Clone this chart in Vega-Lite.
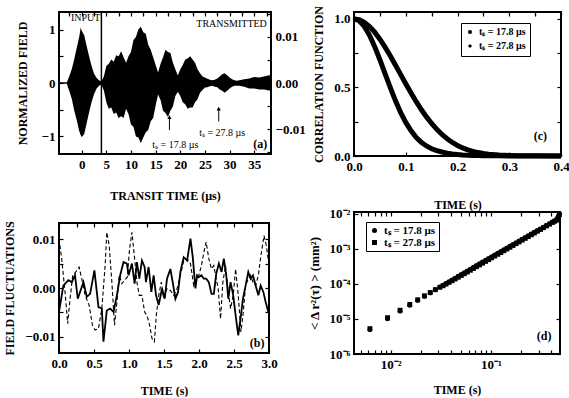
{
  "$schema": "https://vega.github.io/schema/vega-lite/v6.json",
  "background": "white",
  "padding": {"left": 2, "top": 4, "right": 0, "bottom": 0},
  "config": {
    "font": "Liberation Serif",
    "view": {"stroke": "black", "strokeWidth": 2},
    "axis": {"grid": false, "domain": false, "tickColor": "black", "tickSize": -4, "tickWidth": 1.2, "labelPadding": 8, "labelOverlap": false, "labelFlush": false,
      "labelFont": "Liberation Serif", "labelFontWeight": "bold", "labelFontSize": 13, "labelColor": "black",
      "titleFont": "Liberation Serif", "titleFontWeight": "bold", "titleFontSize": 12, "titleColor": "black"},
    "legend": {"labelFont": "Liberation Serif", "labelFontWeight": "bold", "labelColor": "black", "strokeColor": "black", "padding": 5, "rowPadding": 2}
  },
  "spacing": 0,
  "resolve": {"scale": {"shape": "independent"}, "legend": {"shape": "independent"}},
  "hconcat": [
    {
      "bounds": "flush",
      "spacing": 69,
      "vconcat": [
        {
          "width": 212, "height": 142,
          "resolve": {"scale": {"y": "independent"}, "axis": {"x": "independent"}},
          "layer": [
            {
              "layer": [
                {
                  "data": {"values": [
                    {"t": -4.6, "hi": 0.012, "lo": -0.012}, {"t": -3.0, "hi": 0.012, "lo": -0.012},
                    {"t": -2.8, "hi": 0.06, "lo": -0.08}, {"t": -2.5, "hi": 0.13, "lo": -0.15},
                    {"t": -2.0, "hi": 0.26, "lo": -0.30}, {"t": -1.5, "hi": 0.45, "lo": -0.52},
                    {"t": -1.0, "hi": 0.66, "lo": -0.70}, {"t": -0.5, "hi": 0.86, "lo": -0.90},
                    {"t": -0.2, "hi": 1.04, "lo": -0.98}, {"t": 0.0, "hi": 0.98, "lo": -1.01},
                    {"t": 0.5, "hi": 0.90, "lo": -0.96}, {"t": 1.0, "hi": 0.70, "lo": -0.76},
                    {"t": 1.5, "hi": 0.50, "lo": -0.55}, {"t": 2.0, "hi": 0.32, "lo": -0.36},
                    {"t": 2.5, "hi": 0.18, "lo": -0.21}, {"t": 3.0, "hi": 0.10, "lo": -0.11},
                    {"t": 3.5, "hi": 0.05, "lo": -0.05}, {"t": 4.0, "hi": 0.03, "lo": -0.03}
                  ]},
                  "mark": {"type": "area", "color": "black"},
                  "encoding": {
                    "x": {"field": "t", "type": "quantitative", "scale": {"domain": [-4.6, 38.4], "nice": false, "zero": false},
                      "axis": {"title": "TRANSIT TIME (µs)", "titlePadding": 19, "tickCount": 100, "values": [0, 5, 10, 15, 20, 25, 30, 35], "format": "d"}},
                    "y": {"field": "hi", "type": "quantitative", "scale": {"domain": [-1.33, 1.33], "nice": false, "zero": false},
                      "axis": {"title": "NORMALIZED FIELD", "titlePadding": 12, "tickCount": 100, "values": [-1, -0.5, 0, 0.5, 1],
                        "labelExpr": "datum.value % 1 == 0 ? format(datum.value, 'd') : ''"}},
                    "y2": {"field": "lo"}
                  }
                },
                {
                  "data": {"values": [{"t": 4}]},
                  "mark": {"type": "rule", "color": "black", "strokeWidth": 1.5},
                  "encoding": {"x": {"field": "t", "type": "quantitative"}}
                },
                {
                  "data": {"values": [{"t": 17.8, "hi": -0.66, "lo": -0.88}, {"t": 27.8, "hi": -0.50, "lo": -0.72}]},
                  "mark": {"type": "rule", "color": "black", "strokeWidth": 1},
                  "encoding": {"x": {"field": "t", "type": "quantitative"}, "y": {"field": "hi", "type": "quantitative"}, "y2": {"field": "lo"}}
                },
                {
                  "data": {"values": [{"t": 17.8, "hi": -0.64}, {"t": 27.8, "hi": -0.48}]},
                  "mark": {"type": "point", "shape": "triangle-up", "filled": true, "color": "black", "size": 18, "opacity": 1},
                  "encoding": {"x": {"field": "t", "type": "quantitative"}, "y": {"field": "hi", "type": "quantitative"}}
                },
                {
                  "data": {"values": [
                    {"t": 0.8, "hi": 1.21, "label": "INPUT"},
                    {"t": 30.4, "hi": 1.10, "label": "TRANSMITTED"},
                    {"t": 19.0, "hi": -1.17, "label": "tₛ = 17.8 µs"},
                    {"t": 28.5, "hi": -0.93, "label": "tₛ = 27.8 µs"}
                  ]},
                  "mark": {"type": "text", "font": "Liberation Serif", "fontSize": 10, "color": "black"},
                  "encoding": {"x": {"field": "t", "type": "quantitative"}, "y": {"field": "hi", "type": "quantitative"}, "text": {"field": "label"}}
                }
              ]
            },
            {
              "data": {"values": [
                {"t": 4.0, "hi": 0.00035, "lo": -0.00035}, {"t": 4.5, "hi": 0.0014, "lo": -0.0016},
                {"t": 5.0, "hi": 0.0037, "lo": -0.0042}, {"t": 5.5, "hi": 0.0042, "lo": -0.0056},
                {"t": 6.0, "hi": 0.0051, "lo": -0.0053}, {"t": 6.5, "hi": 0.0046, "lo": -0.0067},
                {"t": 7.0, "hi": 0.0060, "lo": -0.0064}, {"t": 7.5, "hi": 0.0058, "lo": -0.0076},
                {"t": 8.0, "hi": 0.0069, "lo": -0.0072}, {"t": 8.5, "hi": 0.0056, "lo": -0.0076},
                {"t": 9.0, "hi": 0.0044, "lo": -0.0056}, {"t": 9.5, "hi": 0.0058, "lo": -0.0067},
                {"t": 10.0, "hi": 0.0067, "lo": -0.0090}, {"t": 10.5, "hi": 0.0093, "lo": -0.0095},
                {"t": 11.0, "hi": 0.0100, "lo": -0.0116}, {"t": 11.5, "hi": 0.0116, "lo": -0.0118},
                {"t": 12.0, "hi": 0.0122, "lo": -0.0130}, {"t": 12.5, "hi": 0.0110, "lo": -0.0118},
                {"t": 13.0, "hi": 0.0107, "lo": -0.0107}, {"t": 13.5, "hi": 0.0083, "lo": -0.0102},
                {"t": 14.0, "hi": 0.0072, "lo": -0.0083}, {"t": 14.5, "hi": 0.0056, "lo": -0.0076},
                {"t": 15.0, "hi": 0.0039, "lo": -0.0049}, {"t": 15.5, "hi": 0.0023, "lo": -0.0025},
                {"t": 16.0, "hi": 0.0042, "lo": -0.0037}, {"t": 16.5, "hi": 0.0056, "lo": -0.0060},
                {"t": 17.0, "hi": 0.0072, "lo": -0.0065}, {"t": 17.5, "hi": 0.0067, "lo": -0.0074},
                {"t": 18.0, "hi": 0.0065, "lo": -0.0060}, {"t": 18.5, "hi": 0.0044, "lo": -0.0051},
                {"t": 19.0, "hi": 0.0030, "lo": -0.0028}, {"t": 19.5, "hi": 0.0016, "lo": -0.0019},
                {"t": 20.0, "hi": 0.0030, "lo": -0.0028}, {"t": 20.5, "hi": 0.0039, "lo": -0.0042},
                {"t": 21.0, "hi": 0.0051, "lo": -0.0046}, {"t": 21.5, "hi": 0.0053, "lo": -0.0056},
                {"t": 22.0, "hi": 0.0058, "lo": -0.0053}, {"t": 22.5, "hi": 0.0051, "lo": -0.0053},
                {"t": 23.0, "hi": 0.0044, "lo": -0.0042}, {"t": 23.5, "hi": 0.0030, "lo": -0.0035},
                {"t": 24.0, "hi": 0.0021, "lo": -0.0021}, {"t": 24.5, "hi": 0.0014, "lo": -0.0015},
                {"t": 25.0, "hi": 0.0012, "lo": -0.0010}, {"t": 25.5, "hi": 0.0009, "lo": -0.0009},
                {"t": 26.0, "hi": 0.0007, "lo": -0.0007}, {"t": 26.5, "hi": 0.0006, "lo": -0.0006},
                {"t": 27.0, "hi": 0.0007, "lo": -0.0008}, {"t": 27.5, "hi": 0.0010, "lo": -0.0009},
                {"t": 28.0, "hi": 0.0014, "lo": -0.0014}, {"t": 28.5, "hi": 0.0019, "lo": -0.0017},
                {"t": 29.0, "hi": 0.0021, "lo": -0.0021}, {"t": 29.5, "hi": 0.0017, "lo": -0.0017},
                {"t": 30.0, "hi": 0.0012, "lo": -0.0012}, {"t": 30.5, "hi": 0.0008, "lo": -0.0008},
                {"t": 31.0, "hi": 0.0006, "lo": -0.0006}, {"t": 31.5, "hi": 0.0005, "lo": -0.0006},
                {"t": 32.0, "hi": 0.0006, "lo": -0.0006}, {"t": 33.0, "hi": 0.0008, "lo": -0.0008},
                {"t": 34.0, "hi": 0.0010, "lo": -0.0012}, {"t": 35.0, "hi": 0.0013, "lo": -0.0012},
                {"t": 36.0, "hi": 0.0012, "lo": -0.0014}, {"t": 37.0, "hi": 0.0014, "lo": -0.0014},
                {"t": 38.0, "hi": 0.0017, "lo": -0.0016}, {"t": 38.4, "hi": 0.0016, "lo": -0.0017}
              ]},
              "mark": {"type": "area", "color": "black"},
              "encoding": {
                "x": {"field": "t", "type": "quantitative",
                  "axis": {"title": null, "labels": false, "tickCount": 100, "values": [-2.5, 2.5, 7.5, 12.5, 17.5, 22.5, 27.5, 32.5, 37.5], "tickSize": -3}},
                "y": {"field": "hi", "type": "quantitative", "scale": {"domain": [-0.0154, 0.0154], "nice": false, "zero": false},
                  "axis": {"orient": "right", "title": null, "tickCount": 100, "values": [-0.015, -0.01, -0.005, 0, 0.005, 0.01, 0.015],
                    "labelExpr": "datum.value == 0.01 || datum.value == 0 || datum.value == -0.01 ? format(datum.value, '.2f') : ''"}},
                "y2": {"field": "lo"}
              }
            },
            {
              "data": {"values": [{"t": 36.2, "hi": -1.14, "label": "(a)"}]},
              "mark": {"type": "text", "font": "Liberation Serif", "fontSize": 12, "fontWeight": "bold", "color": "black"},
              "encoding": {
                "x": {"field": "t", "type": "quantitative",
                  "axis": {"orient": "top", "title": null, "labels": false, "tickCount": 100, "values": [-2.5, 0, 2.5, 5, 7.5, 10, 12.5, 15, 17.5, 20, 22.5, 25, 27.5, 30, 32.5, 35, 37.5]}},
                "y": {"field": "hi", "type": "quantitative", "scale": {"domain": [-1.33, 1.33], "nice": false, "zero": false}, "axis": null},
                "text": {"field": "label"}
              }
            }
          ]
        },
        {
          "width": 210, "height": 130,
          "resolve": {"axis": {"x": "independent", "y": "independent"}},
          "layer": [
            {
              "data": {"values": [
                {"t": 0, "v": -0.0049}, {"t": 0.062, "v": 0.0005}, {"t": 0.134, "v": 0.0016}, {"t": 0.182, "v": 0.0012},
                {"t": 0.229, "v": 0.0026}, {"t": 0.268, "v": -0.0022}, {"t": 0.349, "v": 0.0012}, {"t": 0.397, "v": -0.0018},
                {"t": 0.444, "v": -0.0012}, {"t": 0.506, "v": 0.0036}, {"t": 0.564, "v": -0.0039}, {"t": 0.612, "v": -0.0042},
                {"t": 0.635, "v": -0.0110}, {"t": 0.683, "v": -0.0046}, {"t": 0.731, "v": -0.0042}, {"t": 0.779, "v": -0.0049},
                {"t": 0.827, "v": -0.0015}, {"t": 0.874, "v": 0.0026}, {"t": 0.922, "v": 0.0053}, {"t": 0.970, "v": 0.0050},
                {"t": 0.994, "v": 0.0026}, {"t": 1.042, "v": 0.0050}, {"t": 1.080, "v": 0.0009}, {"t": 1.113, "v": 0.0053},
                {"t": 1.147, "v": 0.0019}, {"t": 1.185, "v": 0.0056}, {"t": 1.223, "v": 0.0043}, {"t": 1.242, "v": 0.0012},
                {"t": 1.280, "v": 0.0043}, {"t": 1.319, "v": -0.0008}, {"t": 1.352, "v": 0.0026}, {"t": 1.386, "v": -0.0015},
                {"t": 1.424, "v": -0.0035}, {"t": 1.472, "v": -0.0001}, {"t": 1.510, "v": -0.0022}, {"t": 1.543, "v": 0.0019},
                {"t": 1.591, "v": 0.0039}, {"t": 1.624, "v": 0.0012}, {"t": 1.663, "v": -0.0022}, {"t": 1.701, "v": -0.0008},
                {"t": 1.734, "v": 0.0033}, {"t": 1.782, "v": 0.0063}, {"t": 1.830, "v": 0.0056}, {"t": 1.878, "v": 0.0101},
                {"t": 1.911, "v": 0.0063}, {"t": 1.949, "v": -0.0001}, {"t": 1.973, "v": 0.0026}, {"t": 1.997, "v": 0.0022},
                {"t": 2.035, "v": 0.0026}, {"t": 2.069, "v": 0.0019}, {"t": 2.102, "v": 0.0019}, {"t": 2.140, "v": 0.0012},
                {"t": 2.179, "v": -0.0012}, {"t": 2.212, "v": -0.0012}, {"t": 2.246, "v": 0.0029}, {"t": 2.284, "v": 0.0050},
                {"t": 2.322, "v": 0.0033}, {"t": 2.355, "v": 0.0060}, {"t": 2.389, "v": 0.0026}, {"t": 2.418, "v": -0.0022},
                {"t": 2.451, "v": 0.0012}, {"t": 2.489, "v": -0.0015}, {"t": 2.523, "v": -0.0056}, {"t": 2.561, "v": -0.0097},
                {"t": 2.599, "v": -0.0056}, {"t": 2.628, "v": -0.0022}, {"t": 2.666, "v": 0.0005}, {"t": 2.704, "v": 0.0033},
                {"t": 2.738, "v": 0.0019}, {"t": 2.771, "v": 0.0026}, {"t": 2.809, "v": 0.0005}, {"t": 2.848, "v": -0.0015},
                {"t": 2.881, "v": 0.0005}, {"t": 2.919, "v": -0.0008}, {"t": 2.953, "v": -0.0029}, {"t": 2.991, "v": -0.0049}
              ]},
              "mark": {"type": "line", "color": "black", "strokeWidth": 1.8},
              "encoding": {
                "x": {"field": "t", "type": "quantitative", "scale": {"domain": [0, 3], "nice": false, "zero": false},
                  "axis": {"title": "TIME (s)", "titlePadding": 15, "tickCount": 100, "values": [0, 0.5, 1, 1.5, 2, 2.5, 3], "format": ".1f"}},
                "y": {"field": "v", "type": "quantitative", "scale": {"domain": [-0.0133, 0.0133], "nice": false, "zero": false},
                  "axis": {"title": "FIELD FLUCTUATIONS", "titlePadding": 8, "tickCount": 100, "values": [-0.01, -0.005, 0, 0.005, 0.01],
                    "labelExpr": "datum.value == 0.005 || datum.value == -0.005 ? '' : format(datum.value, '.2f')"}}
              }
            },
            {
              "data": {"values": [
                {"t": 0, "v": 0.0101}, {"t": 0.038, "v": 0.0060}, {"t": 0.086, "v": -0.0008}, {"t": 0.124, "v": -0.0073},
                {"t": 0.158, "v": -0.0022}, {"t": 0.196, "v": 0.0026}, {"t": 0.239, "v": 0.0033}, {"t": 0.287, "v": 0.0043},
                {"t": 0.325, "v": 0.0019}, {"t": 0.373, "v": -0.0015}, {"t": 0.430, "v": -0.0035}, {"t": 0.478, "v": -0.0076},
                {"t": 0.516, "v": -0.0086}, {"t": 0.564, "v": -0.0083}, {"t": 0.612, "v": -0.0042}, {"t": 0.659, "v": 0.0046},
                {"t": 0.683, "v": 0.0114}, {"t": 0.717, "v": 0.0087}, {"t": 0.755, "v": 0.0012}, {"t": 0.793, "v": -0.0076},
                {"t": 0.827, "v": -0.0029}, {"t": 0.860, "v": 0.0026}, {"t": 0.898, "v": 0.0009}, {"t": 0.936, "v": 0.0016},
                {"t": 0.975, "v": 0.0022}, {"t": 1.008, "v": 0.0080}, {"t": 1.042, "v": 0.0114}, {"t": 1.080, "v": 0.0060},
                {"t": 1.113, "v": 0.0012}, {"t": 1.147, "v": -0.0015}, {"t": 1.185, "v": -0.0015}, {"t": 1.223, "v": -0.0049},
                {"t": 1.257, "v": -0.0056}, {"t": 1.295, "v": -0.0076}, {"t": 1.328, "v": -0.0103}, {"t": 1.362, "v": -0.0110},
                {"t": 1.390, "v": -0.0056}, {"t": 1.424, "v": -0.0015}, {"t": 1.462, "v": 0.0012}, {"t": 1.495, "v": -0.0022},
                {"t": 1.543, "v": -0.0001}, {"t": 1.591, "v": -0.0005}, {"t": 1.639, "v": -0.0015}, {"t": 1.687, "v": -0.0001},
                {"t": 1.734, "v": 0.0026}, {"t": 1.782, "v": 0.0056}, {"t": 1.830, "v": 0.0060}, {"t": 1.878, "v": 0.0050},
                {"t": 1.925, "v": 0.0005}, {"t": 1.964, "v": 0.0019}, {"t": 1.997, "v": 0.0026}, {"t": 2.035, "v": 0.0046},
                {"t": 2.069, "v": 0.0073}, {"t": 2.102, "v": 0.0094}, {"t": 2.140, "v": 0.0060}, {"t": 2.179, "v": 0.0039},
                {"t": 2.212, "v": 0.0046}, {"t": 2.246, "v": 0.0019}, {"t": 2.274, "v": -0.0001}, {"t": 2.308, "v": -0.0063},
                {"t": 2.341, "v": 0.0012}, {"t": 2.379, "v": 0.0046}, {"t": 2.418, "v": -0.0008}, {"t": 2.451, "v": -0.0042},
                {"t": 2.489, "v": -0.0015}, {"t": 2.523, "v": 0.0039}, {"t": 2.561, "v": -0.0015}, {"t": 2.599, "v": -0.0090},
                {"t": 2.628, "v": -0.0056}, {"t": 2.666, "v": 0.0005}, {"t": 2.704, "v": 0.0019}, {"t": 2.738, "v": 0.0026},
                {"t": 2.771, "v": 0.0012}, {"t": 2.809, "v": 0.0005}, {"t": 2.848, "v": 0.0026}, {"t": 2.881, "v": 0.0063},
                {"t": 2.929, "v": 0.0107}, {"t": 2.962, "v": 0.0087}, {"t": 3.0, "v": 0.0046}
              ]},
              "mark": {"type": "line", "color": "black", "strokeWidth": 1.1, "strokeDash": [4, 2.5]},
              "encoding": {
                "x": {"field": "t", "type": "quantitative", "axis": {"title": null, "labels": false, "tickCount": 100, "values": [0.25, 0.75, 1.25, 1.75, 2.25, 2.75], "tickSize": -3}},
                "y": {"field": "v", "type": "quantitative", "axis": null}
              }
            },
            {
              "data": {"values": [{"t": 2.83, "v": -0.0112, "label": "(b)"}]},
              "mark": {"type": "text", "font": "Liberation Serif", "fontSize": 12, "fontWeight": "bold", "color": "black"},
              "encoding": {
                "x": {"field": "t", "type": "quantitative", "axis": {"orient": "top", "title": null, "labels": false, "tickCount": 100, "values": [0, 0.25, 0.5, 0.75, 1, 1.25, 1.5, 1.75, 2, 2.25, 2.5, 2.75, 3]}},
                "y": {"field": "v", "type": "quantitative", "axis": {"orient": "right", "title": null, "labels": false, "tickCount": 100, "values": [-0.01, -0.005, 0, 0.005, 0.01]}},
                "text": {"field": "label"}
              }
            }
          ]
        }
      ]
    },
    {
      "bounds": "flush",
      "spacing": 56,
      "resolve": {"scale": {"shape": "independent"}, "legend": {"shape": "independent"}},
      "vconcat": [
        {
          "width": 207, "height": 144,
          "resolve": {"axis": {"x": "independent", "y": "independent"}},
          "data": {"values": [
            {"t": 0, "c": 1.0, "s": "tₛ = 17.8 µs"}, {"t": 0.01, "c": 0.986, "s": "tₛ = 17.8 µs"}, {"t": 0.02, "c": 0.945, "s": "tₛ = 17.8 µs"},
            {"t": 0.03, "c": 0.880, "s": "tₛ = 17.8 µs"}, {"t": 0.04, "c": 0.797, "s": "tₛ = 17.8 µs"}, {"t": 0.05, "c": 0.702, "s": "tₛ = 17.8 µs"},
            {"t": 0.06, "c": 0.600, "s": "tₛ = 17.8 µs"}, {"t": 0.07, "c": 0.500, "s": "tₛ = 17.8 µs"}, {"t": 0.08, "c": 0.404, "s": "tₛ = 17.8 µs"},
            {"t": 0.09, "c": 0.317, "s": "tₛ = 17.8 µs"}, {"t": 0.10, "c": 0.245, "s": "tₛ = 17.8 µs"}, {"t": 0.11, "c": 0.185, "s": "tₛ = 17.8 µs"},
            {"t": 0.12, "c": 0.137, "s": "tₛ = 17.8 µs"}, {"t": 0.13, "c": 0.100, "s": "tₛ = 17.8 µs"}, {"t": 0.14, "c": 0.073, "s": "tₛ = 17.8 µs"},
            {"t": 0.15, "c": 0.053, "s": "tₛ = 17.8 µs"}, {"t": 0.16, "c": 0.039, "s": "tₛ = 17.8 µs"}, {"t": 0.17, "c": 0.029, "s": "tₛ = 17.8 µs"},
            {"t": 0.18, "c": 0.021, "s": "tₛ = 17.8 µs"}, {"t": 0.19, "c": 0.015, "s": "tₛ = 17.8 µs"}, {"t": 0.20, "c": 0.011, "s": "tₛ = 17.8 µs"},
            {"t": 0.21, "c": 0.008, "s": "tₛ = 17.8 µs"}, {"t": 0.22, "c": 0.006, "s": "tₛ = 17.8 µs"}, {"t": 0.23, "c": 0.004, "s": "tₛ = 17.8 µs"},
            {"t": 0.24, "c": 0.003, "s": "tₛ = 17.8 µs"}, {"t": 0.25, "c": 0.002, "s": "tₛ = 17.8 µs"}, {"t": 0.26, "c": 0.0015, "s": "tₛ = 17.8 µs"},
            {"t": 0.28, "c": 0.001, "s": "tₛ = 17.8 µs"}, {"t": 0.30, "c": 0.0005, "s": "tₛ = 17.8 µs"}, {"t": 0.32, "c": 0.0003, "s": "tₛ = 17.8 µs"},
            {"t": 0.35, "c": 0.0, "s": "tₛ = 17.8 µs"}, {"t": 0.40, "c": 0.0, "s": "tₛ = 17.8 µs"},
            {"t": 0, "c": 1.0, "s": "tₛ = 27.8 µs"}, {"t": 0.01, "c": 0.994, "s": "tₛ = 27.8 µs"}, {"t": 0.02, "c": 0.975, "s": "tₛ = 27.8 µs"},
            {"t": 0.03, "c": 0.944, "s": "tₛ = 27.8 µs"}, {"t": 0.04, "c": 0.903, "s": "tₛ = 27.8 µs"}, {"t": 0.05, "c": 0.852, "s": "tₛ = 27.8 µs"},
            {"t": 0.06, "c": 0.794, "s": "tₛ = 27.8 µs"}, {"t": 0.07, "c": 0.731, "s": "tₛ = 27.8 µs"}, {"t": 0.08, "c": 0.664, "s": "tₛ = 27.8 µs"},
            {"t": 0.09, "c": 0.595, "s": "tₛ = 27.8 µs"}, {"t": 0.10, "c": 0.527, "s": "tₛ = 27.8 µs"}, {"t": 0.11, "c": 0.461, "s": "tₛ = 27.8 µs"},
            {"t": 0.12, "c": 0.398, "s": "tₛ = 27.8 µs"}, {"t": 0.13, "c": 0.339, "s": "tₛ = 27.8 µs"}, {"t": 0.14, "c": 0.285, "s": "tₛ = 27.8 µs"},
            {"t": 0.15, "c": 0.237, "s": "tₛ = 27.8 µs"}, {"t": 0.16, "c": 0.194, "s": "tₛ = 27.8 µs"}, {"t": 0.17, "c": 0.157, "s": "tₛ = 27.8 µs"},
            {"t": 0.18, "c": 0.126, "s": "tₛ = 27.8 µs"}, {"t": 0.19, "c": 0.099, "s": "tₛ = 27.8 µs"}, {"t": 0.20, "c": 0.077, "s": "tₛ = 27.8 µs"},
            {"t": 0.21, "c": 0.059, "s": "tₛ = 27.8 µs"}, {"t": 0.22, "c": 0.045, "s": "tₛ = 27.8 µs"}, {"t": 0.23, "c": 0.034, "s": "tₛ = 27.8 µs"},
            {"t": 0.24, "c": 0.025, "s": "tₛ = 27.8 µs"}, {"t": 0.25, "c": 0.018, "s": "tₛ = 27.8 µs"}, {"t": 0.26, "c": 0.013, "s": "tₛ = 27.8 µs"},
            {"t": 0.28, "c": 0.007, "s": "tₛ = 27.8 µs"}, {"t": 0.30, "c": 0.004, "s": "tₛ = 27.8 µs"}, {"t": 0.32, "c": 0.002, "s": "tₛ = 27.8 µs"},
            {"t": 0.35, "c": 0.001, "s": "tₛ = 27.8 µs"}, {"t": 0.40, "c": 0.0, "s": "tₛ = 27.8 µs"}
          ]},
          "layer": [
            {
              "mark": {"type": "line", "color": "black", "strokeWidth": 5},
              "encoding": {
                "x": {"field": "t", "type": "quantitative", "scale": {"domain": [0, 0.4], "nice": false, "zero": false},
                  "axis": {"title": "TIME (s)", "titlePadding": 26, "tickCount": 100, "values": [0, 0.1, 0.2, 0.3, 0.4], "format": ".1f"}},
                "y": {"field": "c", "type": "quantitative", "scale": {"domain": [0, 1.05], "nice": false, "zero": false},
                  "axis": {"title": "CORRELATION FUNCTION", "titlePadding": 8, "tickCount": 100, "values": [0, 0.25, 0.5, 0.75, 1],
                    "labelExpr": "datum.value == 0.25 || datum.value == 0.75 ? '' : format(datum.value, '.1f')"}},
                "detail": {"field": "s", "type": "nominal"}
              }
            },
            {
              "mark": {"type": "point", "filled": true, "color": "black", "size": 6, "opacity": 1},
              "encoding": {
                "x": {"field": "t", "type": "quantitative", "axis": {"title": null, "labels": false, "tickCount": 100, "values": [0.05, 0.15, 0.25, 0.35], "tickSize": -3}},
                "y": {"field": "c", "type": "quantitative", "axis": null},
                "shape": {"field": "s", "type": "nominal", "scale": {"range": ["circle", "diamond"]},
                  "legend": {"title": null, "orient": "none", "legendX": 107, "legendY": 11, "labelFontSize": 10, "symbolSize": 18, "symbolFillColor": "black", "symbolStrokeColor": "black", "strokeColor": "black", "padding": 4}}
              }
            },
            {
              "data": {"values": [{"t": 0.36, "c": 0.146, "label": "(c)"}]},
              "mark": {"type": "text", "font": "Liberation Serif", "fontSize": 12, "fontWeight": "bold", "color": "black"},
              "encoding": {
                "x": {"field": "t", "type": "quantitative", "axis": {"orient": "top", "title": null, "labels": false, "tickCount": 100, "values": [0, 0.05, 0.1, 0.15, 0.2, 0.25, 0.3, 0.35, 0.4]}},
                "y": {"field": "c", "type": "quantitative", "axis": {"orient": "right", "title": null, "labels": false, "tickCount": 100, "values": [0, 0.25, 0.5, 0.75, 1]}},
                "text": {"field": "label"}
              }
            }
          ]
        },
        {
          "width": 206, "height": 142,
          "resolve": {"axis": {"x": "independent", "y": "independent"}},
          "layer": [
            {
              "data": {"values": [
                {"t": 0.0062, "m": 4.90e-6, "s": "tₛ = 17.8 µs"}, {"t": 0.0093, "m": 1.005e-5, "s": "tₛ = 17.8 µs"}, {"t": 0.0124, "m": 1.66e-5, "s": "tₛ = 17.8 µs"},
                {"t": 0.0155, "m": 2.45e-5, "s": "tₛ = 17.8 µs"}, {"t": 0.0186, "m": 3.37e-5, "s": "tₛ = 17.8 µs"}, {"t": 0.0217, "m": 4.41e-5, "s": "tₛ = 17.8 µs"},
                {"t": 0.0248, "m": 5.55e-5, "s": "tₛ = 17.8 µs"}, {"t": 0.0279, "m": 6.78e-5, "s": "tₛ = 17.8 µs"}, {"t": 0.031, "m": 8.13e-5, "s": "tₛ = 17.8 µs"},
                {"t": 0.0333, "m": 9.18e-5, "s": "tₛ = 17.8 µs"}, {"t": 0.0357, "m": 1.034e-4, "s": "tₛ = 17.8 µs"}, {"t": 0.0383, "m": 1.165e-4, "s": "tₛ = 17.8 µs"},
                {"t": 0.041, "m": 1.308e-4, "s": "tₛ = 17.8 µs"}, {"t": 0.044, "m": 1.475e-4, "s": "tₛ = 17.8 µs"}, {"t": 0.0472, "m": 1.661e-4, "s": "tₛ = 17.8 µs"},
                {"t": 0.0506, "m": 1.868e-4, "s": "tₛ = 17.8 µs"}, {"t": 0.0543, "m": 2.104e-4, "s": "tₛ = 17.8 µs"}, {"t": 0.0582, "m": 2.364e-4, "s": "tₛ = 17.8 µs"},
                {"t": 0.0624, "m": 2.659e-4, "s": "tₛ = 17.8 µs"}, {"t": 0.067, "m": 2.997e-4, "s": "tₛ = 17.8 µs"}, {"t": 0.0718, "m": 3.363e-4, "s": "tₛ = 17.8 µs"},
                {"t": 0.077, "m": 3.781e-4, "s": "tₛ = 17.8 µs"}, {"t": 0.0826, "m": 4.252e-4, "s": "tₛ = 17.8 µs"}, {"t": 0.0886, "m": 4.777e-4, "s": "tₛ = 17.8 µs"},
                {"t": 0.095, "m": 5.365e-4, "s": "tₛ = 17.8 µs"}, {"t": 0.1019, "m": 6.03e-4, "s": "tₛ = 17.8 µs"}, {"t": 0.1093, "m": 6.77e-4, "s": "tₛ = 17.8 µs"},
                {"t": 0.1172, "m": 7.60e-4, "s": "tₛ = 17.8 µs"}, {"t": 0.1257, "m": 8.53e-4, "s": "tₛ = 17.8 µs"}, {"t": 0.1349, "m": 9.58e-4, "s": "tₛ = 17.8 µs"},
                {"t": 0.1446, "m": 1.075e-3, "s": "tₛ = 17.8 µs"}, {"t": 0.1551, "m": 1.205e-3, "s": "tₛ = 17.8 µs"}, {"t": 0.1664, "m": 1.352e-3, "s": "tₛ = 17.8 µs"},
                {"t": 0.1785, "m": 1.517e-3, "s": "tₛ = 17.8 µs"}, {"t": 0.1914, "m": 1.700e-3, "s": "tₛ = 17.8 µs"}, {"t": 0.2053, "m": 1.905e-3, "s": "tₛ = 17.8 µs"},
                {"t": 0.2202, "m": 2.135e-3, "s": "tₛ = 17.8 µs"}, {"t": 0.2362, "m": 2.393e-3, "s": "tₛ = 17.8 µs"}, {"t": 0.2533, "m": 2.68e-3, "s": "tₛ = 17.8 µs"},
                {"t": 0.2717, "m": 3.00e-3, "s": "tₛ = 17.8 µs"}, {"t": 0.2914, "m": 3.36e-3, "s": "tₛ = 17.8 µs"}, {"t": 0.3126, "m": 3.76e-3, "s": "tₛ = 17.8 µs"},
                {"t": 0.3352, "m": 4.21e-3, "s": "tₛ = 17.8 µs"}, {"t": 0.3596, "m": 4.72e-3, "s": "tₛ = 17.8 µs"}, {"t": 0.3857, "m": 5.28e-3, "s": "tₛ = 17.8 µs"},
                {"t": 0.4137, "m": 5.90e-3, "s": "tₛ = 17.8 µs"}, {"t": 0.4337, "m": 6.36e-3, "s": "tₛ = 17.8 µs"}, {"t": 0.4537, "m": 6.84e-3, "s": "tₛ = 17.8 µs"},
                {"t": 0.4637, "m": 7.4e-3, "s": "tₛ = 17.8 µs"}, {"t": 0.4737, "m": 8.4e-3, "s": "tₛ = 17.8 µs"}, {"t": 0.4837, "m": 1.0e-2, "s": "tₛ = 17.8 µs"},
                {"t": 0.0062, "m": 5.3e-6, "s": "tₛ = 27.8 µs"}, {"t": 0.0093, "m": 1.09e-5, "s": "tₛ = 27.8 µs"}, {"t": 0.0124, "m": 1.78e-5, "s": "tₛ = 27.8 µs"},
                {"t": 0.0155, "m": 2.6e-5, "s": "tₛ = 27.8 µs"}, {"t": 0.0186, "m": 3.55e-5, "s": "tₛ = 27.8 µs"}, {"t": 0.0217, "m": 4.6e-5, "s": "tₛ = 27.8 µs"},
                {"t": 0.0248, "m": 5.7e-5, "s": "tₛ = 27.8 µs"}, {"t": 0.0279, "m": 6.9e-5, "s": "tₛ = 27.8 µs"}, {"t": 0.031, "m": 8.1e-5, "s": "tₛ = 27.8 µs"},
                {"t": 0.0333, "m": 8.9e-5, "s": "tₛ = 27.8 µs"}, {"t": 0.0357, "m": 9.9e-5, "s": "tₛ = 27.8 µs"}, {"t": 0.0383, "m": 1.11e-4, "s": "tₛ = 27.8 µs"},
                {"t": 0.041, "m": 1.24e-4, "s": "tₛ = 27.8 µs"}, {"t": 0.044, "m": 1.39e-4, "s": "tₛ = 27.8 µs"}, {"t": 0.0472, "m": 1.56e-4, "s": "tₛ = 27.8 µs"},
                {"t": 0.0506, "m": 1.75e-4, "s": "tₛ = 27.8 µs"}, {"t": 0.0543, "m": 1.96e-4, "s": "tₛ = 27.8 µs"}, {"t": 0.0582, "m": 2.20e-4, "s": "tₛ = 27.8 µs"},
                {"t": 0.0624, "m": 2.47e-4, "s": "tₛ = 27.8 µs"}, {"t": 0.067, "m": 2.78e-4, "s": "tₛ = 27.8 µs"}, {"t": 0.0718, "m": 3.12e-4, "s": "tₛ = 27.8 µs"},
                {"t": 0.077, "m": 3.50e-4, "s": "tₛ = 27.8 µs"}, {"t": 0.0826, "m": 3.94e-4, "s": "tₛ = 27.8 µs"}, {"t": 0.0886, "m": 4.43e-4, "s": "tₛ = 27.8 µs"},
                {"t": 0.095, "m": 4.97e-4, "s": "tₛ = 27.8 µs"}, {"t": 0.1019, "m": 5.59e-4, "s": "tₛ = 27.8 µs"}, {"t": 0.1093, "m": 6.28e-4, "s": "tₛ = 27.8 µs"},
                {"t": 0.1172, "m": 7.05e-4, "s": "tₛ = 27.8 µs"}, {"t": 0.1257, "m": 7.92e-4, "s": "tₛ = 27.8 µs"}, {"t": 0.1349, "m": 8.90e-4, "s": "tₛ = 27.8 µs"},
                {"t": 0.1446, "m": 1.00e-3, "s": "tₛ = 27.8 µs"}, {"t": 0.1551, "m": 1.12e-3, "s": "tₛ = 27.8 µs"}, {"t": 0.1664, "m": 1.26e-3, "s": "tₛ = 27.8 µs"},
                {"t": 0.1785, "m": 1.42e-3, "s": "tₛ = 27.8 µs"}, {"t": 0.1914, "m": 1.59e-3, "s": "tₛ = 27.8 µs"}, {"t": 0.2053, "m": 1.79e-3, "s": "tₛ = 27.8 µs"},
                {"t": 0.2202, "m": 2.01e-3, "s": "tₛ = 27.8 µs"}, {"t": 0.2362, "m": 2.26e-3, "s": "tₛ = 27.8 µs"}, {"t": 0.2533, "m": 2.54e-3, "s": "tₛ = 27.8 µs"},
                {"t": 0.2717, "m": 2.85e-3, "s": "tₛ = 27.8 µs"}, {"t": 0.2914, "m": 3.21e-3, "s": "tₛ = 27.8 µs"}, {"t": 0.3126, "m": 3.61e-3, "s": "tₛ = 27.8 µs"},
                {"t": 0.3352, "m": 4.06e-3, "s": "tₛ = 27.8 µs"}, {"t": 0.3596, "m": 4.57e-3, "s": "tₛ = 27.8 µs"}, {"t": 0.3857, "m": 5.13e-3, "s": "tₛ = 27.8 µs"},
                {"t": 0.4137, "m": 5.75e-3, "s": "tₛ = 27.8 µs"}, {"t": 0.4337, "m": 6.2e-3, "s": "tₛ = 27.8 µs"}, {"t": 0.4537, "m": 6.7e-3, "s": "tₛ = 27.8 µs"},
                {"t": 0.4637, "m": 7.2e-3, "s": "tₛ = 27.8 µs"}, {"t": 0.4737, "m": 8.1e-3, "s": "tₛ = 27.8 µs"}, {"t": 0.4837, "m": 9.6e-3, "s": "tₛ = 27.8 µs"}
              ]},
              "mark": {"type": "point", "filled": true, "color": "black", "size": 24, "opacity": 1},
              "encoding": {
                "x": {"field": "t", "type": "quantitative", "scale": {"type": "log", "domain": [0.0043, 0.49], "nice": false},
                  "axis": {"title": "TIME (s)", "titlePadding": 13, "tickCount": 100, "values": [0.005, 0.006, 0.007, 0.008, 0.009, 0.01, 0.02, 0.03, 0.04, 0.05, 0.06, 0.07, 0.08, 0.09, 0.1, 0.2, 0.3, 0.4],
                    "labelExpr": "datum.value == 0.01 ? '10⁻²' : datum.value == 0.1 ? '10⁻¹' : ''"}},
                "y": {"field": "m", "type": "quantitative", "scale": {"type": "log", "domain": [1e-6, 0.0114], "nice": false},
                  "axis": {"title": "< Δ r²(τ) > (mm²)", "titleFontSize": 13, "titlePadding": 8, "tickCount": 100, "values": [1e-6, 1e-5, 1e-4, 1e-3, 1e-2],
                    "labelExpr": "'10⁻' + ['⁰','¹','²','³','⁴','⁵','⁶'][round(-log(datum.value) / LN10)]"}},
                "shape": {"field": "s", "type": "nominal", "scale": {"range": ["circle", "square"]},
                  "legend": {"title": null, "orient": "none", "legendX": 12, "legendY": 10, "labelFontSize": 11, "symbolSize": 25, "symbolFillColor": "black", "symbolStrokeColor": "black", "strokeColor": "black", "padding": 3, "rowPadding": 0}}
              }
            },
            {
              "data": {"values": [{"t": 0.34, "m": 3.3e-6, "label": "(d)"}]},
              "mark": {"type": "text", "font": "Liberation Serif", "fontSize": 12, "fontWeight": "bold", "color": "black"},
              "encoding": {
                "x": {"field": "t", "type": "quantitative", "axis": {"orient": "top", "title": null, "labels": false, "tickCount": 100, "values": [0.005, 0.006, 0.007, 0.008, 0.009, 0.01, 0.02, 0.03, 0.04, 0.05, 0.06, 0.07, 0.08, 0.09, 0.1, 0.2, 0.3, 0.4]}},
                "y": {"field": "m", "type": "quantitative", "axis": {"orient": "right", "title": null, "labels": false, "tickCount": 100, "values": [1e-6, 1e-5, 1e-4, 1e-3, 1e-2]}},
                "text": {"field": "label"}
              }
            }
          ]
        }
      ]
    }
  ]
}
